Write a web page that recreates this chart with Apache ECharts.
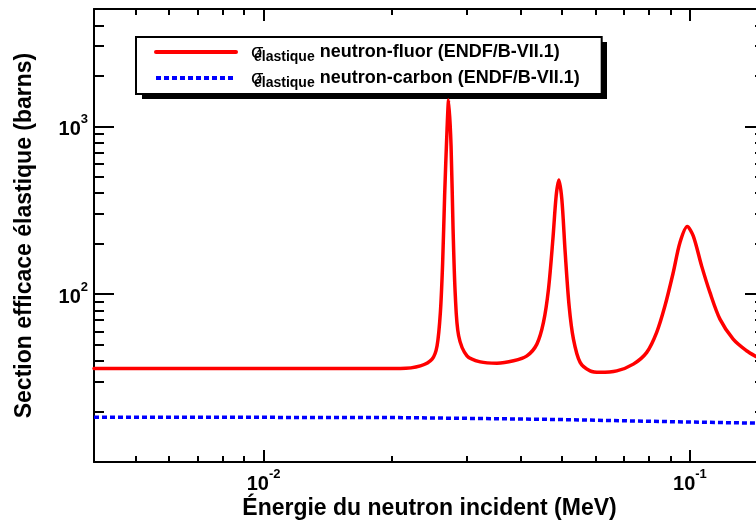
<!DOCTYPE html>
<html><head><meta charset="utf-8">
<script src="https://cdn.jsdelivr.net/npm/echarts@6/dist/echarts.min.js"></script>
<style>html,body{margin:0;padding:0;background:#fff}#c{width:756px;height:521px}</style>
</head><body><div id="c"></div>
<script>
// ---- data ----
const fluorE = [0.004, 0.006, 0.008, 0.010, 0.013, 0.016, 0.019, 0.02094, 0.02332, 0.02484, 0.02552, 0.02598, 0.02630, 0.02658, 0.02693, 0.02716, 0.02752, 0.02782, 0.02816, 0.02867, 0.02999, 0.03223, 0.03526, 0.03857, 0.04146, 0.04375, 0.04533, 0.04658, 0.04770, 0.04855, 0.04926, 0.05006, 0.05097, 0.05207, 0.05330, 0.05526, 0.05831, 0.06154, 0.06734, 0.07366, 0.07920, 0.08356, 0.08739, 0.09139, 0.09476, 0.09856, 0.1018, 0.1065, 0.1114, 0.1176, 0.1263, 0.1358, 0.1427];
const fluorSigma = [36.1, 36.1, 36.1, 36.1, 36.1, 36.1, 36.1, 36.1, 37.4, 41.0, 49.3, 78.1, 155, 385, 960, 1434, 763, 244, 97.7, 56.5, 42.9, 39.5, 38.8, 40.1, 42.9, 50.4, 67.8, 107.1, 212.5, 385, 479, 368, 177.8, 85.2, 54.0, 39.2, 34.9, 34.2, 34.9, 38.3, 45.0, 59.2, 85.2, 134.7, 203, 252.9, 222.3, 147.4, 102.4, 71.0, 54.0, 46.0, 42.6];
const carbonE = [0.004, 0.01, 0.02, 0.03, 0.05, 0.07, 0.1, 0.1427];
const carbonSigma = [18.45, 18.45, 18.4, 18.2, 17.9, 17.6, 17.3, 17.05];

const xMajorTicks = [0.01, 0.1];
const xMinorTicks = [0.005, 0.006, 0.007, 0.008, 0.009, 0.02, 0.03, 0.04, 0.05, 0.06, 0.07, 0.08, 0.09];
const yMajorTicks = [100, 1000];
const yMinorTicks = [20, 30, 40, 50, 60, 70, 80, 90, 200, 300, 400, 500, 600, 700, 800, 900, 2000, 3000, 4000];

const seriesNames = ['neutron-fluor (ENDF/B-VII.1)', 'neutron-carbon (ENDF/B-VII.1)'];
const sigmaSymbol = 'σ';
const sigmaSub = 'élastique';
const xTitle = 'Énergie du neutron incident (MeV)';
const yTitle = 'Section efficace élastique (barns)';

// ---- chart ----
const FONT = '"Liberation Sans", Arial, Helvetica, sans-serif';
const X_MIN = 0.004, X_MAX = 0.15, Y_MIN = 10, Y_MAX = 5000;

const powLabel = v => '{b|10}{s|' + Math.round(Math.log10(v)) + '}';
const powRich = {
  b: {fontFamily: FONT, fontWeight: 'bold', fontSize: 20, color: '#000', lineHeight: 26, verticalAlign: 'bottom'},
  s: {fontFamily: FONT, fontWeight: 'bold', fontSize: 13, color: '#000', lineHeight: 12, verticalAlign: 'top'}
};

function xAx(position, ticks, len, opts) {
  return Object.assign({
    type: 'log', min: X_MIN, max: X_MAX, position: position, gridIndex: 0,
    axisLine: {show: false, onZero: false},
    axisTick: {show: true, inside: true, length: len, customValues: ticks, lineStyle: {color: '#000', width: 2}},
    axisLabel: {show: false},
    splitLine: {show: false}, minorTick: {show: false}, minorSplitLine: {show: false}
  }, opts || {});
}
function yAx(position, ticks, len, opts) {
  return Object.assign({
    type: 'log', min: Y_MIN, max: Y_MAX, position: position, gridIndex: 0,
    axisLine: {show: false, onZero: false},
    axisTick: {show: true, inside: true, length: len, customValues: ticks, lineStyle: {color: '#000', width: 2}},
    axisLabel: {show: false},
    splitLine: {show: false}, minorTick: {show: false}, minorSplitLine: {show: false}
  }, opts || {});
}

const chart = echarts.init(document.getElementById('c'), null, {renderer: 'canvas'});
chart.setOption({
  animation: false,
  backgroundColor: '#fff',
  grid: {left: 94, top: 9, width: 671, height: 453, containLabel: false, outerBoundsMode: 'none'},
  graphic: [{
    type: 'rect', z: 0, zlevel: 0, silent: true,
    shape: {x: 142, y: 42, width: 465, height: 57},
    style: {fill: '#000'}
  }],
  legend: {
    orient: 'vertical', left: 136, top: 37, z: 10,
    data: seriesNames,
    itemWidth: 80, itemHeight: 14, itemGap: 4,
    padding: [5, 22, 4, 18],
    backgroundColor: '#fff', borderColor: '#000', borderWidth: 2,
    selectedMode: false,
    itemStyle: {opacity: 0, color: 'rgba(0,0,0,0)', borderWidth: 0},
    lineStyle: {width: 4},
    formatter: name => '{sp|}{sig|' + sigmaSymbol + '}{sub|' + sigmaSub + '}{main| ' + name + '}',
    textStyle: {
      rich: {
        sp: {width: 10, lineHeight: 24},
        sig: {fontFamily: FONT, fontSize: 20, color: '#000', lineHeight: 24, width: 3},
        sub: {fontFamily: FONT, fontWeight: 'bold', fontSize: 14, color: '#000', lineHeight: 8, verticalAlign: 'bottom'},
        main: {fontFamily: FONT, fontWeight: 'bold', fontSize: 18, color: '#000', lineHeight: 24}
      }
    }
  },
  xAxis: [
    xAx('bottom', xMajorTicks, 12, {
      axisLine: {show: true, onZero: false, lineStyle: {color: '#000', width: 2}},
      axisLabel: {show: true, customValues: xMajorTicks, margin: 6, formatter: powLabel, rich: powRich},
      name: xTitle, nameLocation: 'middle', nameGap: 35, nameMoveOverlap: false,
      nameTextStyle: {fontFamily: FONT, fontWeight: 'bold', fontSize: 23, color: '#000'}
    }),
    xAx('bottom', xMinorTicks, 6),
    xAx('top', xMajorTicks, 12, {axisLine: {show: true, onZero: false, lineStyle: {color: '#000', width: 2}}}),
    xAx('top', xMinorTicks, 6)
  ],
  yAxis: [
    yAx('left', yMajorTicks, 20, {
      axisLine: {show: true, onZero: false, lineStyle: {color: '#000', width: 2}},
      axisLabel: {show: true, customValues: yMajorTicks, margin: 6, formatter: powLabel, rich: powRich},
      name: yTitle, nameLocation: 'middle', nameGap: 58, nameRotate: 90, nameMoveOverlap: false,
      nameTextStyle: {fontFamily: FONT, fontWeight: 'bold', fontSize: 23, color: '#000'}
    }),
    yAx('left', yMinorTicks, 10),
    yAx('right', yMajorTicks, 20, {axisLine: {show: true, onZero: false, lineStyle: {color: '#000', width: 2}}}),
    yAx('right', yMinorTicks, 10)
  ],
  series: [
    {
      name: seriesNames[0], type: 'line', xAxisIndex: 0, yAxisIndex: 0,
      data: fluorE.map((e, i) => [e, fluorSigma[i]]),
      symbol: 'none', showSymbol: false, clip: true, smooth: 0.3,
      lineStyle: {color: '#ff0000', width: 3.5, join: 'round', cap: 'round'},
      itemStyle: {color: '#ff0000'}
    },
    {
      name: seriesNames[1], type: 'line', xAxisIndex: 0, yAxisIndex: 0,
      data: carbonE.map((e, i) => [e, carbonSigma[i]]),
      symbol: 'none', showSymbol: false, clip: true,
      lineStyle: {color: '#0000ff', width: 3.5, type: [5, 3], cap: 'butt'},
      itemStyle: {color: '#0000ff'}
    }
  ]
});
</script>
</body></html>
